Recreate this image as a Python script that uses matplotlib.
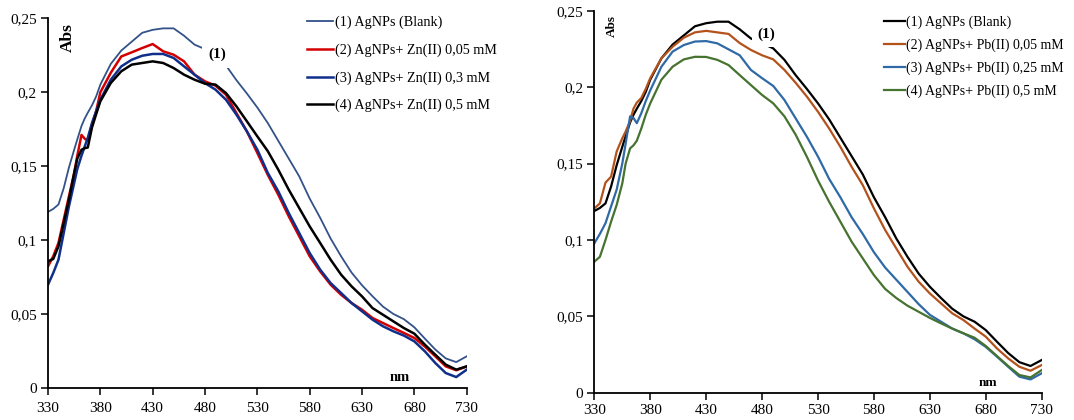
import matplotlib
matplotlib.use("Agg")
import matplotlib.pyplot as plt
from matplotlib.ticker import FuncFormatter

plt.rcParams['font.family'] = ['Liberation Serif', 'DejaVu Serif']

# ---------------- data ----------------
wavelength = [330, 335, 340, 345, 350, 355, 358, 362, 365, 368, 372, 376, 380,
              390, 400, 410, 420, 430, 440, 450, 460, 470, 480, 490, 500,
              510, 520, 530, 540, 550, 560, 570, 580, 590, 600, 610, 620,
              630, 640, 650, 660, 670, 680, 690, 700, 710, 720, 730]

blank = [0.119, 0.121, 0.124, 0.135, 0.149, 0.161, 0.168, 0.177, 0.182, 0.186, 0.191, 0.197, 0.205,
         0.219, 0.228, 0.234, 0.240, 0.242, 0.243, 0.243, 0.238, 0.232, 0.229, 0.2255, 0.218,
         0.208, 0.199, 0.1895, 0.179, 0.167, 0.155, 0.143, 0.128, 0.115, 0.101, 0.089, 0.078,
         0.0694, 0.062, 0.055, 0.050, 0.0465, 0.041, 0.0334, 0.026, 0.020, 0.0175, 0.0214]

zn_005 = [0.0822, 0.089, 0.098, 0.1137, 0.1295, 0.145, 0.157, 0.171, 0.1685, 0.167, 0.178, 0.187, 0.1998,
          0.213, 0.224, 0.2268, 0.2297, 0.2324, 0.2275, 0.2252, 0.2207, 0.2117, 0.2072, 0.2043, 0.1982,
          0.1858, 0.1734, 0.1588, 0.144, 0.1306, 0.116, 0.1025, 0.089, 0.0788, 0.0698, 0.063, 0.0574,
          0.0529, 0.0473, 0.0439, 0.0405, 0.0372, 0.0338, 0.028, 0.0214, 0.0146, 0.012, 0.0146]

zn_03 = [0.0698, 0.0777, 0.0867, 0.1047, 0.1227, 0.1385, 0.148, 0.157, 0.163, 0.169, 0.179, 0.187, 0.1948,
         0.2083, 0.2173, 0.2218, 0.2245, 0.2257, 0.2257, 0.223, 0.2173, 0.2117, 0.206, 0.2016, 0.1948,
         0.1847, 0.1734, 0.161, 0.1453, 0.1329, 0.1182, 0.1047, 0.0912, 0.080, 0.0709, 0.0642, 0.0574,
         0.0518, 0.0462, 0.0417, 0.0383, 0.0354, 0.0315, 0.0248, 0.0169, 0.0101, 0.0074, 0.0124]

zn_05 = [0.0856, 0.0872, 0.0957, 0.1115, 0.1273, 0.1453, 0.155, 0.161, 0.162, 0.1625, 0.176, 0.185, 0.1937,
         0.2061, 0.214, 0.2185, 0.2196, 0.2207, 0.2196, 0.2162, 0.2117, 0.2083, 0.2056, 0.205, 0.1993,
         0.1903, 0.1802, 0.170, 0.160, 0.1475, 0.134, 0.1216, 0.1092, 0.098, 0.0867, 0.0766, 0.0687,
         0.0619, 0.054, 0.0495, 0.045, 0.0405, 0.0367, 0.0293, 0.0225, 0.0158, 0.0124, 0.0146]

pb_005 = [0.1207, 0.124, 0.1376, 0.1415, 0.158, 0.1666, 0.171, 0.178, 0.186, 0.190, 0.193, 0.199, 0.206,
          0.219, 0.2266, 0.2325, 0.236, 0.237, 0.236, 0.235, 0.229, 0.2245, 0.221, 0.2183, 0.2114,
          0.203, 0.194, 0.184, 0.173, 0.161, 0.148, 0.136, 0.1207, 0.1066, 0.0945, 0.0825, 0.0727,
          0.065, 0.0585, 0.052, 0.0476, 0.042, 0.0367, 0.029, 0.0225, 0.017, 0.0144, 0.0181]

pb_025 = [0.0978, 0.104, 0.111, 0.122, 0.133, 0.150, 0.163, 0.181, 0.180, 0.1765, 0.183, 0.191, 0.198,
          0.2135, 0.2234, 0.2277, 0.230, 0.2303, 0.2288, 0.2249, 0.221, 0.2114, 0.206, 0.2009, 0.1917,
          0.1797, 0.1677, 0.1546, 0.140, 0.128, 0.115, 0.104, 0.092, 0.082, 0.074, 0.066, 0.058,
          0.051, 0.0465, 0.042, 0.0389, 0.035, 0.030, 0.0236, 0.017, 0.0105, 0.0087, 0.0127]

pb_05 = [0.0858, 0.089, 0.100, 0.112, 0.123, 0.137, 0.150, 0.160, 0.162, 0.165, 0.173, 0.182, 0.1895,
         0.205, 0.2135, 0.2183, 0.220, 0.2199, 0.218, 0.2146, 0.208, 0.2015, 0.195, 0.1895, 0.181,
         0.169, 0.1546, 0.139, 0.125, 0.112, 0.099, 0.088, 0.077, 0.068, 0.062, 0.057, 0.053,
         0.049, 0.0454, 0.042, 0.0389, 0.036, 0.0306, 0.024, 0.0175, 0.0116, 0.010, 0.0148]

zn_labels = ["(1) AgNPs (Blank)", "(2) AgNPs+ Zn(II) 0,05 mM",
             "(3) AgNPs+ Zn(II) 0,3 mM", "(4) AgNPs+ Zn(II) 0,5 mM"]
pb_labels = ["(1) AgNPs (Blank)", "(2) AgNPs+ Pb(II) 0,05 mM",
             "(3) AgNPs+ Pb(II) 0,25 mM", "(4) AgNPs+ Pb(II) 0,5 mM"]

x_ticks = [330, 380, 430, 480, 530, 580, 630, 680, 730]
y_ticks = [0, 0.05, 0.1, 0.15, 0.2, 0.25]

# ---------------- figure ----------------
fig = plt.figure(figsize=(10.74, 4.2), dpi=100)
axL = fig.add_axes([48 / 1074, 1 - 388 / 420, (466.7 - 48) / 1074, (388 - 18) / 420])
axR = fig.add_axes([594.3 / 1074, 1 - 392.7 / 420, (1041.7 - 594.3) / 1074, (392.7 - 11) / 420])

fmt = FuncFormatter(lambda v, p: f"{v:g}".replace('.', ','))


def style(ax, xpad):
    ax.set_xlim(330, 730)
    ax.set_ylim(0, 0.25)
    ax.set_xticks(x_ticks)
    ax.set_yticks(y_ticks)
    ax.yaxis.set_major_formatter(fmt)
    for s in ('top', 'right'):
        ax.spines[s].set_visible(False)
    for s in ('left', 'bottom'):
        ax.spines[s].set_linewidth(1.3)
        ax.spines[s].set_color('black')
    ax.tick_params(direction='out', length=5, width=1.1, labelsize=11, pad=3, colors='black')
    ax.tick_params(axis='x', pad=xpad)


# Left panel (Zn)
zn_series = [blank, zn_005, zn_03, zn_05]
zn_colors = ['#33528a', '#d40000', '#0f2f8a', '#000000']
zn_widths = [1.3, 1.8, 1.8, 1.8]
for ys, c, lw, lab in zip(zn_series, zn_colors, zn_widths, zn_labels):
    axL.plot(wavelength, ys, color=c, lw=lw, label=lab)
style(axL, 5)
axL.text(492, 0.2255, "(1)", fontsize=11, fontweight='bold', ha='center', va='center',
         bbox=dict(facecolor='white', edgecolor='none', pad=5), zorder=5)
axL.text(0.048, 0.985, "Abs", transform=axL.transAxes, rotation=90, fontsize=12.5,
         fontweight='bold', ha='center', va='top')
axL.text(0.84, 0.028, "nm", transform=axL.transAxes, fontsize=10.5, fontweight='bold',
         ha='center', va='center')
axL.legend(loc='upper left', bbox_to_anchor=(307 / 1074, 1 - 16 / 420),
           bbox_transform=fig.transFigure, frameon=False, fontsize=10.2,
           handlelength=1.85, handletextpad=0.1, labelspacing=1.0,
           borderpad=0, borderaxespad=0)

# Right panel (Pb)
pb_series = [blank, pb_005, pb_025, pb_05]
pb_colors = ['#000000', '#b4521c', '#2f6aa6', '#467330']
for ys, c, lab in zip(pb_series, pb_colors, pb_labels):
    axR.plot(wavelength, ys, color=c, lw=1.6, label=lab)
style(axR, 3)
axR.text(484, 0.2345, "(1)", fontsize=11, fontweight='bold', ha='center', va='center',
         bbox=dict(facecolor='white', edgecolor='none', pad=4), zorder=5)
axR.text(0.04, 0.99, "Abs", transform=axR.transAxes, rotation=90, fontsize=9.5,
         fontweight='bold', ha='center', va='top')
axR.text(0.88, 0.025, "nm", transform=axR.transAxes, fontsize=9.5, fontweight='bold',
         ha='center', va='center')
axR.legend(loc='upper left', bbox_to_anchor=(884 / 1074, 1 - 16 / 420),
           bbox_transform=fig.transFigure, frameon=False, fontsize=10,
           handlelength=1.5, handletextpad=0.1, labelspacing=0.68,
           borderpad=0, borderaxespad=0)

fig.savefig("out.png", dpi=100)
